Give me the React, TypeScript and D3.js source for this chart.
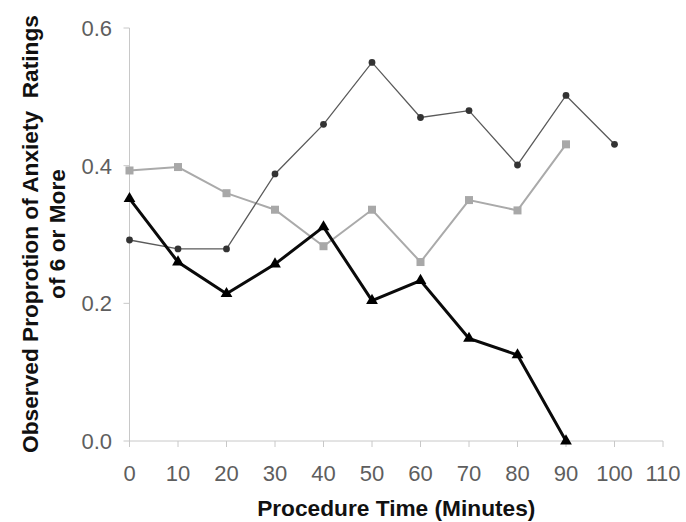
import React, { useRef, useEffect } from "react";
import * as d3 from "d3";

const minutes = [0, 10, 20, 30, 40, 50, 60, 70, 80, 90, 100];
const xTicks = [0, 10, 20, 30, 40, 50, 60, 70, 80, 90, 100, 110];
const yTicks = [0, 0.2, 0.4, 0.6];

// dark gray, small round markers
const seriesDots = [0.292, 0.279, 0.279, 0.388, 0.46, 0.55, 0.47, 0.48, 0.401, 0.502, 0.431];
// light gray squares (no value at 100)
const seriesSquares = [0.393, 0.398, 0.36, 0.336, 0.283, 0.336, 0.26, 0.35, 0.335, 0.431];
// black triangles (no value at 100)
const seriesTriangles = [0.352, 0.26, 0.214, 0.257, 0.311, 0.204, 0.233, 0.149, 0.125, 0.0];

const W = 686;
const H = 522;

const App = () => {
  const svgRef = useRef(null);

  useEffect(() => {
    const svg = d3.select(svgRef.current);
    svg.selectAll("*").remove();

    const x = d3.scaleLinear().domain([0, 110]).range([129.5, 663]);
    const y = d3.scaleLinear().domain([0, 0.6]).range([441, 28]);

    const axisColor = "#c8c8c8";
    const tickText = "#5e5e5e";

    // y axis
    svg.append("line")
      .attr("x1", x(0)).attr("x2", x(0))
      .attr("y1", y(0.6)).attr("y2", y(0))
      .attr("stroke", axisColor);
    svg.selectAll(".ytick")
      .data(yTicks)
      .enter()
      .append("line")
      .attr("x1", x(0) - 6).attr("x2", x(0))
      .attr("y1", d => y(d)).attr("y2", d => y(d))
      .attr("stroke", axisColor);
    svg.selectAll(".ylab")
      .data(yTicks)
      .enter()
      .append("text")
      .attr("x", 112)
      .attr("y", d => y(d))
      .attr("dy", "0.36em")
      .attr("text-anchor", "end")
      .attr("font-family", "Liberation Sans, Arial, sans-serif")
      .attr("font-size", 22)
      .attr("fill", tickText)
      .text(d => d.toFixed(1));

    // x axis
    svg.append("line")
      .attr("x1", x(0)).attr("x2", x(110))
      .attr("y1", y(0)).attr("y2", y(0))
      .attr("stroke", axisColor);
    svg.selectAll(".xtick")
      .data(xTicks)
      .enter()
      .append("line")
      .attr("x1", d => x(d)).attr("x2", d => x(d))
      .attr("y1", y(0)).attr("y2", y(0) + 6)
      .attr("stroke", axisColor);
    svg.selectAll(".xlab")
      .data(xTicks)
      .enter()
      .append("text")
      .attr("x", d => x(d))
      .attr("y", 481)
      .attr("text-anchor", "middle")
      .attr("font-family", "Liberation Sans, Arial, sans-serif")
      .attr("font-size", 22)
      .attr("fill", tickText)
      .text(d => d);

    // titles
    svg.append("text")
      .attr("x", (x(0) + x(110)) / 2)
      .attr("y", 516)
      .attr("text-anchor", "middle")
      .attr("font-family", "Liberation Sans, Arial, sans-serif")
      .attr("font-weight", "bold")
      .attr("font-size", 22.7)
      .attr("fill", "#111")
      .text("Procedure Time (Minutes)");

    const yTitle = svg.append("text")
      .attr("transform", "translate(38,234) rotate(-90)")
      .attr("text-anchor", "middle")
      .attr("font-family", "Liberation Sans, Arial, sans-serif")
      .attr("font-weight", "bold")
      .attr("font-size", 22.7)
      .attr("fill", "#111")
      .style("white-space", "pre");
    yTitle.append("tspan").attr("x", 0).attr("y", 0).text("Observed Proprotion of Anxiety  Ratings");
    yTitle.append("tspan").attr("x", 0).attr("y", 27).text("of 6 or More");

    const line = d3.line().x(d => x(d[0])).y(d => y(d[1]));

    const dots = seriesDots.map((v, i) => [minutes[i], v]);
    const squares = seriesSquares.map((v, i) => [minutes[i], v]);
    const tris = seriesTriangles.map((v, i) => [minutes[i], v]);

    // light gray squares
    svg.append("path")
      .attr("d", line(squares))
      .attr("fill", "none")
      .attr("stroke", "#aaaaaa")
      .attr("stroke-width", 2);
    svg.selectAll(".sq")
      .data(squares)
      .enter()
      .append("rect")
      .attr("x", d => x(d[0]) - 4)
      .attr("y", d => y(d[1]) - 4)
      .attr("width", 8)
      .attr("height", 8)
      .attr("fill", "#a8a8a8");

    // dark gray dots
    svg.append("path")
      .attr("d", line(dots))
      .attr("fill", "none")
      .attr("stroke", "#5a5a5a")
      .attr("stroke-width", 1.3);
    svg.selectAll(".dot")
      .data(dots)
      .enter()
      .append("circle")
      .attr("cx", d => x(d[0]))
      .attr("cy", d => y(d[1]))
      .attr("r", 3.4)
      .attr("fill", "#333");

    // black triangles
    svg.append("path")
      .attr("d", line(tris))
      .attr("fill", "none")
      .attr("stroke", "#0a0a0a")
      .attr("stroke-width", 3);
    svg.selectAll(".tri")
      .data(tris)
      .enter()
      .append("path")
      .attr("transform", d => `translate(${x(d[0])},${y(d[1])})`)
      .attr("d", d3.symbol(d3.symbolTriangle, 60)())
      .attr("fill", "#000");
  }, []);

  return (
    <svg
      ref={svgRef}
      width={W}
      height={H}
      style={{ position: "absolute", left: 0, top: 0, background: "#fff" }}
    ></svg>
  );
};

export default App;
